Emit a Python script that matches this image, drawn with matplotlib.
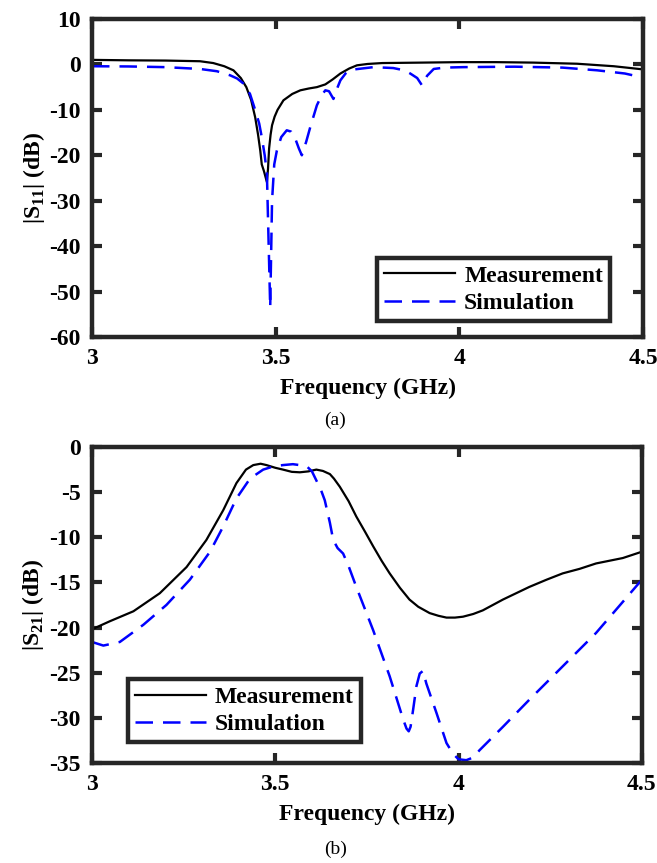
import matplotlib
matplotlib.use('Agg')
from matplotlib import pyplot as plt

plt.rcParams['font.family'] = ['Liberation Serif', 'DejaVu Serif']
plt.rcParams['font.weight'] = 'bold'
plt.rcParams['axes.unicode_minus'] = False
plt.rcParams['mathtext.fontset'] = 'custom'
plt.rcParams['mathtext.rm'] = 'Liberation Serif'
plt.rcParams['mathtext.bf'] = 'Liberation Serif:bold'

# (a) |S11|
s11_meas_f = [3.0, 3.1, 3.2, 3.294, 3.33, 3.36, 3.385, 3.405, 3.42, 3.433, 3.444, 3.452,
              3.458, 3.462, 3.468, 3.476, 3.479, 3.482, 3.486, 3.49, 3.497, 3.505, 3.521,
              3.545, 3.567, 3.59, 3.612, 3.635, 3.655, 3.676, 3.7, 3.721, 3.75, 3.79, 3.9,
              4.0, 4.1, 4.2, 4.32, 4.42, 4.5]
s11_meas_db = [1.0, 0.9, 0.85, 0.7, 0.3, -0.4, -1.3, -3.0, -5.0, -7.8, -11.6, -15.5,
               -19.0, -22.0, -23.5, -25.9, -23.0, -18.5, -15.5, -13.4, -11.5, -10.0, -7.9,
               -6.5, -5.7, -5.3, -5.0, -4.4, -3.3, -2.0, -0.9, -0.2, 0.1, 0.3, 0.4,
               0.5, 0.5, 0.4, 0.15, -0.4, -1.1]
s11_sim_f = [3.0, 3.1, 3.2, 3.294, 3.34, 3.376, 3.395, 3.412, 3.43, 3.444, 3.455, 3.462,
             3.47, 3.476, 3.485, 3.49, 3.496, 3.503, 3.515, 3.53, 3.542, 3.553, 3.563,
             3.571, 3.583, 3.594, 3.612, 3.625, 3.635, 3.645, 3.657, 3.666, 3.676, 3.69,
             3.703, 3.766, 3.82, 3.85, 3.866, 3.885, 3.898, 3.912, 3.93, 3.96, 4.01, 4.15,
             4.28, 4.375, 4.45, 4.5]
s11_sim_db = [-0.4, -0.45, -0.6, -1.0, -1.5, -2.4, -3.1, -4.2, -6.5, -10.0, -13.0, -16.0,
              -20.0, -24.0, -53.5, -30.0, -22.0, -19.0, -16.0, -14.5, -14.8, -16.3, -18.5,
              -20.0, -17.0, -13.8, -9.0, -6.8, -5.7, -5.9, -7.6, -5.5, -3.5, -2.0,
              -1.2, -0.6, -0.8, -1.3, -2.0, -3.0, -4.6, -2.5, -1.0, -0.7, -0.6, -0.5,
              -0.7, -1.3, -2.0, -2.9]

# (b) |S21|
s21_meas_f = [3.0, 3.049, 3.113, 3.185, 3.258, 3.312, 3.358, 3.394, 3.42, 3.44, 3.46,
              3.476, 3.5, 3.521, 3.545, 3.567, 3.59, 3.612, 3.63, 3.649, 3.66, 3.676,
              3.7, 3.721, 3.745, 3.767, 3.79, 3.812, 3.84, 3.866, 3.89, 3.921, 3.945,
              3.967, 3.99, 4.012, 4.04, 4.066, 4.121, 4.193, 4.24, 4.284, 4.33, 4.375,
              4.448, 4.5]
s21_meas_db = [-20.2, -19.3, -18.2, -16.2, -13.3, -10.3, -7.0, -4.0, -2.5, -2.0, -1.85,
               -2.0, -2.3, -2.5, -2.75, -2.8, -2.7, -2.5, -2.65, -3.0, -3.5, -4.4,
               -6.0, -7.7, -9.4, -11.0, -12.6, -14.0, -15.6, -16.9, -17.7, -18.4, -18.7,
               -18.9, -18.9, -18.8, -18.5, -18.1, -16.9, -15.5, -14.7, -14.0, -13.5, -12.9,
               -12.3, -11.6]
s21_sim_f = [3.0, 3.031, 3.076, 3.14, 3.203, 3.267, 3.322, 3.358, 3.394, 3.431, 3.467,
             3.495, 3.521, 3.548, 3.585, 3.6, 3.612, 3.625, 3.635, 3.649, 3.658, 3.67,
             3.685, 3.7, 3.721, 3.767, 3.812, 3.849, 3.858, 3.864, 3.869, 3.876, 3.885,
             3.894, 3.903, 3.912, 3.94, 3.967, 3.985, 4.0, 4.021, 4.04, 4.057, 4.121,
             4.193, 4.284, 4.375, 4.5]
s21_sim_db = [-21.6, -22.0, -21.6, -19.7, -17.5, -14.7, -11.6, -8.8, -5.7, -3.5, -2.5,
              -2.15, -2.0, -1.9, -2.1, -2.7, -3.7, -4.8, -5.9, -8.4, -10.3, -11.2,
              -11.8, -13.2, -15.5, -20.3, -25.4, -30.2, -31.2, -31.5, -31.0, -29.1, -26.5,
              -25.1, -24.8, -26.2, -29.5, -32.8, -34.0, -34.6, -34.7, -34.4, -33.6, -31.0,
              -28.0, -24.3, -20.6, -14.7]

freq_ticks = [3, 3.5, 4, 4.5]
freq_labels = ['3', '3.5', '4', '4.5']

spine_color = '#262626'
fs = 17


def style_axes(ax):
    for s in ax.spines.values():
        s.set_linewidth(3.2)
        s.set_color(spine_color)
    ax.tick_params(direction='in', length=7, width=3, color=spine_color,
                   top=True, right=True, labelsize=fs, pad=8)
    for lab in ax.get_xticklabels() + ax.get_yticklabels():
        lab.set_fontweight('bold')


def add_legend(ax, anchor, loc):
    leg = ax.legend(loc=loc, bbox_to_anchor=anchor, fontsize=fs, frameon=True,
                    fancybox=False, framealpha=1, handlelength=3.0, borderpad=0.3,
                    labelspacing=0.25, handletextpad=0.4, borderaxespad=0.0)
    leg.get_frame().set_linewidth(3.2)
    leg.get_frame().set_edgecolor(spine_color)
    for t in leg.get_texts():
        t.set_fontweight('bold')


fig = plt.figure(figsize=(6.57, 8.63), dpi=100)

ax1 = fig.add_axes([0.140, 0.6095, 0.839, 0.3685])
ax1.plot(s11_meas_f, s11_meas_db, color='black', lw=1.6, label='Measurement')
ax1.plot(s11_sim_f, s11_sim_db, color='blue', lw=1.8, dashes=(7, 4), label='Simulation')
ax1.set_xlim(3, 4.5)
ax1.set_ylim(-60, 10)
ax1.set_xticks(freq_ticks)
ax1.set_xticklabels(freq_labels)
ax1.set_yticks(range(-60, 11, 10))
ax1.set_xlabel('Frequency (GHz)', fontsize=fs, fontweight='bold', labelpad=6)
ax1.set_ylabel(r'|S$_{\mathbf{11}}$| (dB)', fontsize=fs, fontweight='bold', labelpad=2)
style_axes(ax1)
add_legend(ax1, (0.94, 0.05), 'lower right')

ax2 = fig.add_axes([0.140, 0.116, 0.837, 0.366])
ax2.plot(s21_meas_f, s21_meas_db, color='black', lw=1.6, label='Measurement')
ax2.plot(s21_sim_f, s21_sim_db, color='blue', lw=1.8, dashes=(7, 4), label='Simulation')
ax2.set_xlim(3, 4.5)
ax2.set_ylim(-35, 0)
ax2.set_xticks(freq_ticks)
ax2.set_xticklabels(freq_labels)
ax2.set_yticks(range(-35, 1, 5))
ax2.set_xlabel('Frequency (GHz)', fontsize=fs, fontweight='bold', labelpad=6)
ax2.set_ylabel(r'|S$_{\mathbf{21}}$| (dB)', fontsize=fs, fontweight='bold', labelpad=2)
style_axes(ax2)
add_legend(ax2, (0.065, 0.065), 'lower left')

fig.text(0.51, 0.513, '(a)', ha='center', va='center', fontsize=14, fontweight='normal')
fig.text(0.51, 0.016, '(b)', ha='center', va='center', fontsize=14, fontweight='normal')

fig.savefig('out.png', dpi=100)
